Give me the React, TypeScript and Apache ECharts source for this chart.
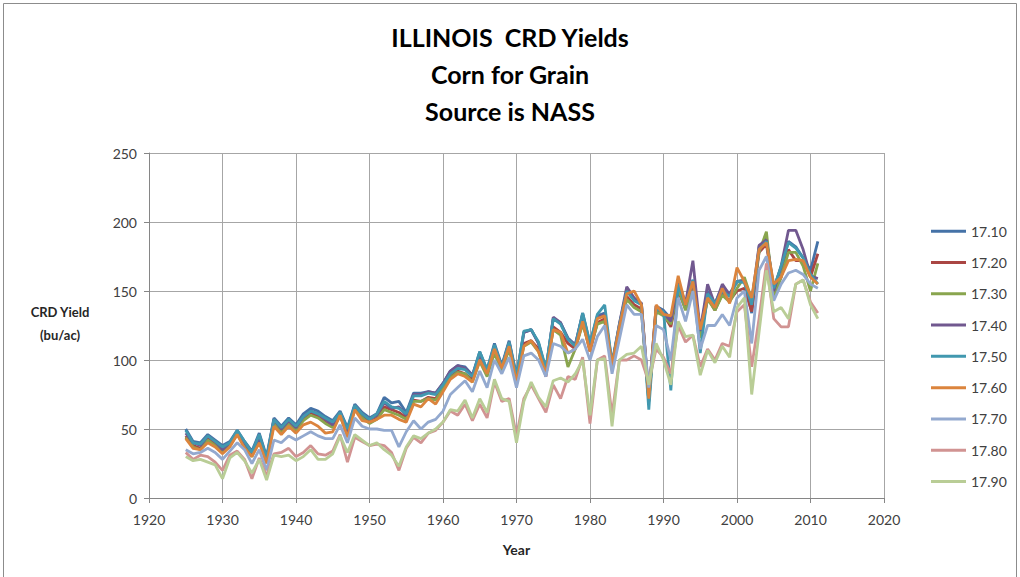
import React, { useEffect, useRef } from "react";
import * as echarts from "echarts";

const years: number[] = [];
for (let y = 1925; y <= 2011; y++) years.push(y);

const seriesNames = ["17.10", "17.20", "17.30", "17.40", "17.50", "17.60", "17.70", "17.80", "17.90"];
const seriesColors = ["#4572A7", "#AA4643", "#89A54E", "#71588F", "#4198AF", "#DB843D", "#93A9CF", "#D19392", "#B9CD96"];

const s1710 = [
  50, 41, 40, 46, 42, 38, 41, 49, 41, 34,
  47, 30, 58, 52, 58, 53, 61, 65, 63, 59,
  56, 63, 51, 68, 62, 58, 61, 73, 69, 70,
  62, 76, 76, 77, 76, 83, 92, 96, 95, 89,
  106, 93, 112, 96, 114, 89, 120, 122, 112, 93,
  130, 127, 116, 111, 134, 112, 132, 134, 98, 126,
  150, 144, 141, 72, 139, 136, 130, 155, 141, 158,
  122, 150, 141, 153, 148, 157, 158, 134, 182, 188,
  152, 167, 186, 182, 174, 165, 186,
];
const s1720 = [
  45, 38, 36, 43, 39, 34, 38, 46, 38, 31,
  43, 27, 55, 48, 55, 50, 57, 62, 59, 55,
  52, 60, 47, 65, 59, 55, 58, 66, 64, 62,
  58, 71, 70, 73, 72, 80, 88, 92, 90, 86,
  100, 90, 106, 93, 110, 84, 112, 114, 108, 88,
  124, 120, 112, 108, 128, 106, 127, 130, 95, 122,
  146, 140, 137, 70, 137, 133, 124, 150, 137, 152,
  118, 145, 136, 148, 143, 150, 152, 135, 178, 184,
  148, 160, 180, 172, 172, 160, 177,
];
const s1730 = [
  44, 37, 35, 42, 38, 33, 38, 47, 37, 30,
  42, 26, 54, 47, 54, 49, 56, 60, 58, 54,
  51, 59, 46, 64, 58, 54, 57, 64, 62, 60,
  57, 70, 70, 72, 71, 79, 87, 91, 90, 84,
  99, 88, 105, 92, 108, 85, 110, 113, 106, 90,
  122, 118, 95, 108, 126, 108, 126, 128, 96, 120,
  144, 138, 135, 70, 135, 132, 126, 152, 136, 150,
  116, 144, 136, 147, 142, 152, 160, 144, 178, 193,
  145, 160, 178, 178, 168, 150, 170,
];
const s1740 = [
  47, 40, 38, 45, 41, 35, 40, 47, 40, 33,
  44, 28, 57, 50, 56, 51, 59, 63, 61, 57,
  53, 62, 48, 67, 61, 57, 60, 69, 65, 66,
  60, 75, 75, 77, 76, 83, 92, 96, 94, 89,
  104, 92, 110, 95, 113, 86, 120, 122, 112, 92,
  131, 127, 115, 111, 133, 110, 131, 133, 96, 126,
  153, 145, 141, 74, 139, 134, 128, 157, 141, 172,
  121, 155, 140, 155, 147, 157, 157, 142, 183, 187,
  150, 168, 194, 194, 180, 161, 159,
];
const s1750 = [
  49, 40, 39, 45, 41, 37, 40, 49, 41, 33,
  46, 29, 57, 51, 57, 52, 59, 63, 61, 58,
  55, 62, 50, 67, 61, 57, 61, 70, 66, 65,
  61, 74, 74, 76, 75, 82, 90, 94, 93, 88,
  106, 93, 111, 95, 113, 88, 121, 122, 113, 94,
  130, 126, 115, 110, 134, 112, 133, 140, 97, 125,
  150, 143, 140, 64, 137, 135, 78, 155, 140, 158,
  105, 148, 141, 150, 146, 157, 156, 140, 180, 186,
  152, 168, 185, 181, 174, 162, 155,
];
const s1760 = [
  43, 36, 35, 40, 37, 32, 37, 46, 36, 30,
  40, 25, 52, 46, 52, 47, 53, 55, 52, 47,
  48, 60, 44, 64, 56, 55, 57, 60, 60, 57,
  55, 68, 66, 72, 68, 77, 86, 90, 88, 84,
  100, 90, 108, 94, 110, 84, 110, 114, 106, 90,
  122, 120, 105, 108, 128, 106, 130, 132, 96, 124,
  148, 150, 140, 72, 140, 133, 132, 161, 140, 157,
  122, 145, 138, 152, 141, 167, 157, 145, 180, 185,
  155, 160, 172, 173, 172, 160, 155,
];
const s1770 = [
  35, 32, 33, 36, 33, 28, 34, 40, 35, 25,
  35, 20, 42, 40, 45, 42, 45, 48, 45, 43,
  43, 53, 40, 58, 52, 50, 50, 49, 49, 37,
  48, 56, 50, 55, 57, 63, 75, 80, 85, 77,
  92, 80, 100, 90, 102, 80, 103, 105, 100, 88,
  112, 110, 105, 108, 115, 100, 117, 125, 90, 115,
  140, 133, 133, 80, 125, 122, 100, 145, 128, 150,
  108, 125, 125, 133, 125, 145, 150, 112, 165, 175,
  143, 155, 163, 165, 162, 155, 152,
];
const s1780 = [
  33, 28, 31, 30, 26, 20, 31, 34, 28, 14,
  29, 16, 32, 33, 36, 30, 33, 38, 32, 31,
  34, 46, 26, 44, 41, 38, 39, 38, 33, 20,
  36, 44, 40, 47, 49, 55, 63, 60, 68, 56,
  68, 58, 84, 70, 72, 45, 72, 82, 72, 62,
  82, 72, 88, 86, 102, 54, 100, 103, 60, 100,
  100, 103, 100, 84, 108, 102, 90, 125, 113, 118,
  95, 108, 100, 112, 110, 135, 140, 95, 130, 170,
  130, 124, 124, 155, 158, 142, 134,
];
const s1790 = [
  30, 27, 28, 26, 24, 14, 29, 33, 27, 18,
  28, 13, 31, 30, 31, 27, 30, 35, 28, 28,
  32, 45, 33, 46, 42, 38, 40, 35, 31, 23,
  37, 45, 43, 47, 50, 55, 64, 63, 71, 58,
  72, 62, 86, 72, 70, 40, 70, 84, 73, 66,
  85, 87, 84, 90, 100, 60, 100, 101, 52, 100,
  104, 105, 110, 82, 112, 100, 82, 128, 117, 118,
  89, 107, 98, 110, 102, 138, 145, 75, 120, 165,
  135, 138, 130, 155, 158, 140, 130,
];

const allSeries = [s1710, s1720, s1730, s1740, s1750, s1760, s1770, s1780, s1790];
const xTicks = { min: 1920, max: 2020, interval: 10 };
const yTicks = { min: 0, max: 250, interval: 50 };

const FONT = "Lato, 'Noto Sans', sans-serif";

export default function App() {
  const ref = useRef<HTMLDivElement>(null);
  useEffect(() => {
    if (!ref.current) return;
    const chart = echarts.init(ref.current, null, { renderer: "svg" });
    chart.setOption({
      animation: false,
      backgroundColor: "#ffffff",
      textStyle: { fontFamily: FONT },
      title: {
        text: "ILLINOIS  CRD Yields\nCorn for Grain\nSource is NASS",
        left: "center",
        top: 13,
        textStyle: { fontFamily: FONT, fontSize: 25, fontWeight: "bold", color: "#000", lineHeight: 37 },
      },
      grid: { left: 149, top: 153, width: 735, height: 345, containLabel: false },
      xAxis: {
        type: "value",
        min: xTicks.min,
        max: xTicks.max,
        interval: xTicks.interval,
        name: "Year",
        nameLocation: "middle",
        nameGap: 44,
        nameTextStyle: { fontFamily: FONT, fontSize: 14, fontWeight: "bold", color: "#262626" },
        axisLine: { show: true, lineStyle: { color: "#868686", width: 1 } },
        axisTick: { show: true, length: 5, lineStyle: { color: "#868686" } },
        axisLabel: { color: "#404040", fontSize: 14, margin: 14, fontFamily: FONT, formatter: (v: number) => String(v) },
        splitLine: { show: true, lineStyle: { color: "#a6a6a6", width: 1 } },
      },
      yAxis: {
        type: "value",
        min: yTicks.min,
        max: yTicks.max,
        interval: yTicks.interval,
        axisLine: { show: true, lineStyle: { color: "#868686", width: 1 } },
        axisTick: { show: true, length: 5, lineStyle: { color: "#868686" } },
        axisLabel: { color: "#404040", fontSize: 14, margin: 12, fontFamily: FONT },
        splitLine: { show: true, lineStyle: { color: "#a6a6a6", width: 1 } },
      },
      legend: {
        orient: "vertical",
        left: 926,
        top: 218,
        itemWidth: 35,
        itemHeight: 3,
        itemGap: 15,
        icon: "rect",
        data: seriesNames,
        textStyle: { fontFamily: FONT, fontSize: 14, color: "#404040", lineHeight: 16.3 },
      },
      graphic: [
        {
          type: "rect",
          shape: { x: 3.5, y: 3.5, width: 1013, height: 580 },
          style: { fill: "none", stroke: "#8c8c8c", lineWidth: 1 },
          silent: true,
        },
        {
          type: "text",
          x: 60,
          y: 312,
          style: { text: "CRD Yield", fontFamily: FONT, fontSize: 13, fontWeight: "bold", fill: "#262626", textAlign: "center", textVerticalAlign: "middle" },
        },
        {
          type: "text",
          x: 60,
          y: 335,
          style: { text: "(bu/ac)", fontFamily: FONT, fontSize: 13, fontWeight: "bold", fill: "#262626", textAlign: "center", textVerticalAlign: "middle" },
        },
      ],
      series: allSeries.map((vals, i) => ({
        name: seriesNames[i],
        type: "line",
        data: vals.map((v, j) => [years[j], v]),
        showSymbol: false,
        symbol: "none",
        lineStyle: { color: seriesColors[i], width: 2.8 },
        itemStyle: { color: seriesColors[i] },
        emphasis: { disabled: true },
      })),
    });
    return () => chart.dispose();
  }, []);
  return <div ref={ref} style={{ position: "absolute", left: 0, top: 0, width: 1020, height: 577 }} />;
}
